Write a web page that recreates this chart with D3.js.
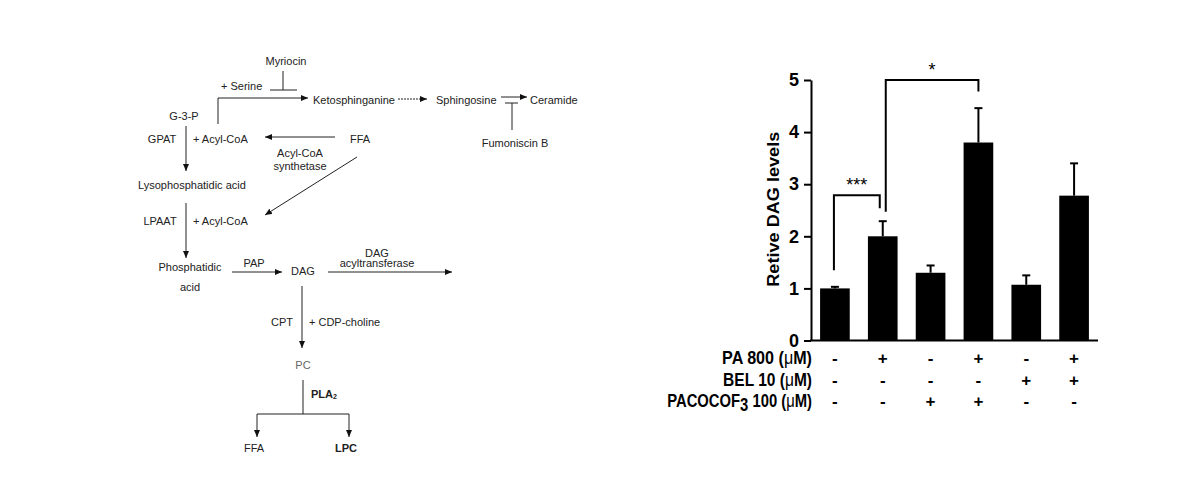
<!DOCTYPE html>
<meta charset="utf-8">
<script src="https://d3js.org/d3.v7.min.js"></script>
<style>
  body { margin: 0; background: #fff; }
  text { font-family: "Liberation Sans", Arial, sans-serif; }
</style>
<div id="chart"></div>
<script>

// bar chart data (relative DAG levels, mean and error)
var dagMean = [1.0, 2.0, 1.3, 3.8, 1.07, 2.78];
var dagErr  = [0.03, 0.29, 0.14, 0.66, 0.18, 0.62];
var yTicks  = [0, 1, 2, 3, 4, 5];

// treatment table under the bars
var rowLabels = ["PA 800", "BEL 10", "PACOCOF"];
var paSigns   = ["-", "+", "-", "+", "-", "+"];
var belSigns  = ["-", "-", "-", "-", "+", "+"];
var cofSigns  = ["-", "-", "+", "+", "-", "-"];

// significance brackets: [fromBar, toBar, top, leftFoot, rightFoot, label]
var brackets = [
  [0, 1, 2.79, 1.35, 2.54, "***"],
  [1, 3, 5.0, 2.47, 4.78, "*"]
];

var W = 1182, H = 482;
var svg = d3.select("#chart").append("svg")
  .attr("width", W).attr("height", H);

svg.append("defs").append("marker")
  .attr("id", "arr")
  .attr("markerUnits", "userSpaceOnUse")
  .attr("markerWidth", 8).attr("markerHeight", 7)
  .attr("refX", 7).attr("refY", 3)
  .attr("orient", "auto")
  .append("path").attr("d", "M0,0 L7,3 L0,6 z").attr("fill", "#111");

// ---------------- pathway diagram ----------------
var dg = svg.append("g").attr("fill", "#222").style("font-size", "11px");

function label(t, x, y, anchor) {
  return dg.append("text").attr("x", x).attr("y", y).attr("dy", "0.35em")
    .attr("text-anchor", anchor || "middle").text(t);
}
function line(pts, arrow, dash) {
  var p = dg.append("path").attr("d", d3.line()(pts))
    .attr("fill", "none").attr("stroke", "#222").attr("stroke-width", 1);
  if (arrow) p.attr("marker-end", "url(#arr)");
  if (dash) p.attr("stroke-dasharray", dash);
  return p;
}

label("Myriocin", 286, 61);
line([[283, 71], [283, 90]]);
line([[270, 90], [297, 90]]);
label("+ Serine", 221, 86, "start");
line([[218, 124], [218, 98], [308, 98]], true);
label("Ketosphinganine", 313, 100, "start");
line([[398, 99], [427, 99]], true, "2,1");
label("Sphingosine", 436, 100, "start");
line([[501, 97], [527, 97]], true);
line([[512, 130], [512, 103]]);
line([[505, 103], [518, 103]]);
label("Ceramide", 530, 100, "start");
label("Fumoniscin B", 515, 143);

label("G-3-P", 184, 116);
label("GPAT", 162, 139);
label("+ Acyl-CoA", 193, 139, "start");
line([[186, 126], [186, 171]], true);
line([[335, 137], [265, 137]], true);
label("FFA", 360, 139);
label("Acyl-CoA", 300, 153);
label("synthetase", 300, 166);
label("Lysophosphatidic acid", 138, 185, "start");
line([[357, 157], [265, 215]], true);

label("LPAAT", 160, 221);
label("+ Acyl-CoA", 193, 221, "start");
line([[186, 203], [186, 258]], true);
label("Phosphatidic", 190, 267);
label("acid", 190, 287);
line([[232, 272], [282, 272]], true);
label("PAP", 254, 263);
label("DAG", 303, 271);
line([[328, 272], [452, 272]], true);
label("DAG", 377, 253);
label("acyltransferase", 377, 263);
line([[302, 286], [302, 348]], true);
label("CPT", 282, 322);
label("+ CDP-choline", 309, 322, "start");

label("PC", 303, 365).attr("fill", "#666");
line([[303, 380], [303, 414]]);
line([[257, 414], [349, 414]]);
line([[257, 414], [257, 437]], true);
line([[349, 414], [349, 437]], true);
var pla = label("PLA", 311, 394, "start").attr("font-weight", "bold");
pla.append("tspan").attr("font-size", "7px").attr("dy", "0.2em").text("2");
label("FFA", 254, 448);
label("LPC", 346, 448).attr("font-weight", "bold");

// ---------------- bar chart ----------------
var x = d3.scaleBand()
  .domain(d3.range(dagMean.length))
  .range([811, 1098])
  .paddingInner(0.38)
  .paddingOuter(0.19);

var y = d3.scaleLinear()
  .domain([0, 5])
  .range([340.5, 80]);

var cx = function(i) { return x(i) + x.bandwidth() / 2; };

// bars
svg.selectAll(".bar")
  .data(dagMean)
  .enter().append("rect")
    .attr("class", "bar")
    .attr("x", function(d, i) { return x(i); })
    .attr("y", function(d) { return y(d); })
    .attr("width", x.bandwidth())
    .attr("height", function(d) { return y(0) - y(d); })
    .attr("fill", "#000");

// error bars
var eb = svg.selectAll(".err")
  .data(dagMean)
  .enter().append("g").attr("class", "err")
  .attr("stroke", "#000").attr("stroke-width", 2);
eb.append("line")
  .attr("x1", function(d, i) { return cx(i); })
  .attr("x2", function(d, i) { return cx(i); })
  .attr("y1", function(d) { return y(d); })
  .attr("y2", function(d, i) { return y(d + dagErr[i]); });
eb.append("line")
  .attr("x1", function(d, i) { return cx(i) - 4; })
  .attr("x2", function(d, i) { return cx(i) + 4; })
  .attr("y1", function(d, i) { return y(d + dagErr[i]); })
  .attr("y2", function(d, i) { return y(d + dagErr[i]); });

// y axis
var yAxis = svg.append("g")
  .attr("transform", "translate(811,0)")
  .call(d3.axisLeft(y).tickValues(yTicks).tickFormat(d3.format("d"))
    .tickSize(7).tickSizeOuter(0).tickPadding(5));
yAxis.select(".domain").attr("stroke-width", 2);
yAxis.selectAll(".tick line").attr("stroke-width", 2);
yAxis.selectAll(".tick text")
  .style("font-family", "'Liberation Sans', Arial, sans-serif")
  .style("font-size", "18px").style("font-weight", "bold").attr("fill", "#000");

// x axis line
svg.append("line")
  .attr("x1", 810).attr("x2", 1098)
  .attr("y1", y(0)).attr("y2", y(0))
  .attr("stroke", "#000").attr("stroke-width", 2);

// y label
svg.append("text")
  .attr("transform", "translate(779," + ((y(0) + y(5)) / 2 - 1) + ") rotate(-90)")
  .attr("text-anchor", "middle")
  .attr("textLength", 155).attr("lengthAdjust", "spacingAndGlyphs")
  .style("font-size", "16px").style("font-weight", "bold")
  .text("Retive DAG levels");

// significance brackets
brackets.forEach(function(b) {
  var off = b[5] === "*" ? 3 : 0;
  var x1 = cx(b[0]) + off - (b[5] === "***" ? 1 : 0);
  var x2 = b[5] === "***" ? cx(b[1]) - 3 : cx(b[1]);
  svg.append("path")
    .attr("d", d3.line()([[x1, y(b[3])], [x1, y(b[2])], [x2, y(b[2])], [x2, y(b[4])]]))
    .attr("fill", "none").attr("stroke", "#000").attr("stroke-width", 2);
  svg.append("text")
    .attr("x", (x1 + x2) / 2).attr("y", y(b[2]) - 4)
    .attr("text-anchor", "middle")
    .style("font-size", "18px")
    .text(b[5]);
});

// treatment table
var rows = [paSigns, belSigns, cofSigns];
var rowY = [358, 380, 401];
var rowWidth = [90, 89, 145];
rows.forEach(function(signs, r) {
  var g = svg.append("g");
  var t = g.append("text")
    .attr("x", 0).attr("y", 0).attr("dy", "0.36em")
    .attr("text-anchor", "end")
    .style("font-size", "18px").style("font-weight", "bold");
  t.append("tspan").text(rowLabels[r]);
  if (r === 2) {
    t.append("tspan").attr("dy", "0.18em").text("3");
    t.append("tspan").attr("dy", "-0.18em").text(" 100");
  }
  t.append("tspan").text(" (");
  t.append("tspan").style("font-weight", "normal").text("\u03bc");
  t.append("tspan").text("M)");
  var sx = rowWidth[r] / t.node().getComputedTextLength();
  g.attr("transform", "translate(812," + rowY[r] + ") scale(" + sx + ",1)");

  svg.selectAll(".sign" + r)
    .data(signs)
    .enter().append("text")
      .attr("x", function(d, i) { return cx(i); })
      .attr("y", rowY[r]).attr("dy", "0.36em")
      .attr("text-anchor", "middle")
      .style("font-size", "17px").style("font-weight", "bold")
      .text(function(d) { return d; });
});

</script>
